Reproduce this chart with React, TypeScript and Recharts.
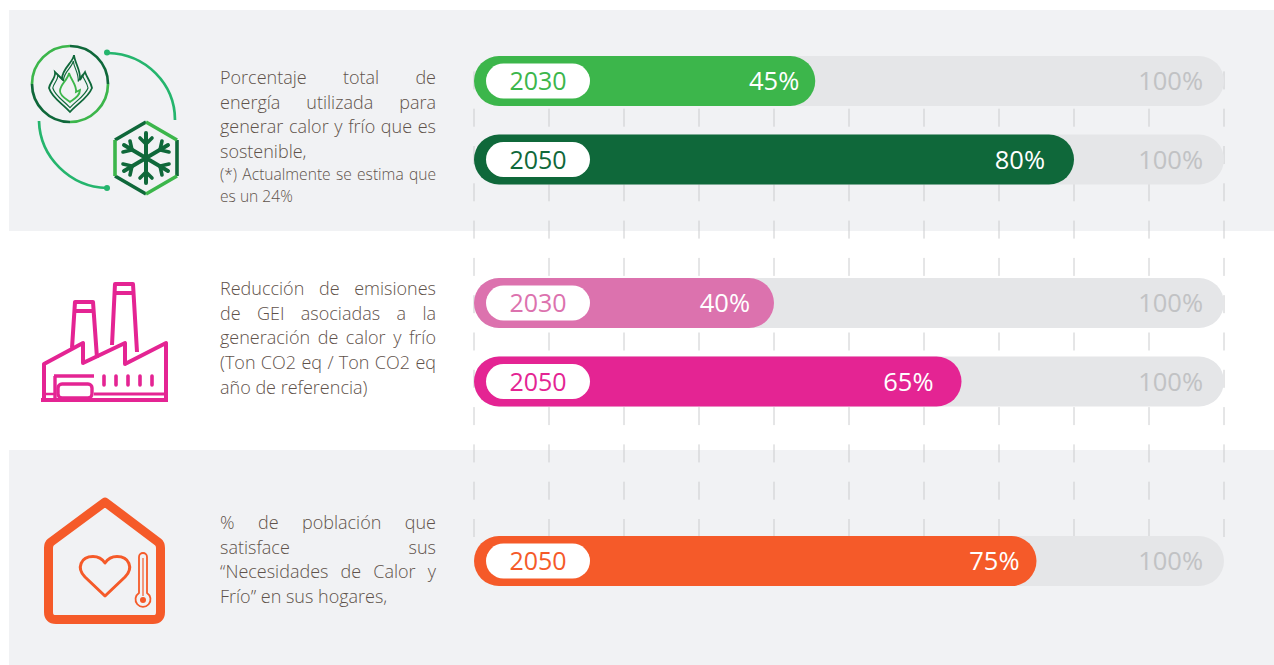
import { Bar, BarChart, LabelList, ReferenceLine, XAxis, YAxis } from "recharts";

const YEARS_HEAT = ["2030", "2050"];
const VALUES_HEAT = [45.5, 80];
const LABELS_HEAT = ["45%", "80%"];
const COLORS_HEAT = ["#3cb64b", "#0f683a"];
const INSETS_HEAT = [16, 29];

const YEARS_GHG = ["2030", "2050"];
const VALUES_GHG = [40, 65];
const LABELS_GHG = ["40%", "65%"];
const COLORS_GHG = ["#dc72ae", "#e42493"];
const INSETS_GHG = [24, 28];

const YEARS_HOME = ["2050"];
const VALUES_HOME = [75];
const LABELS_HOME = ["75%"];
const COLORS_HOME = ["#f55a29"];
const INSETS_HOME = [17];

const FULL = 100;
const X_TICKS = [0, 10, 20, 30, 40, 50, 60, 70, 80, 90, 100];

const FONT = "'Open Sans', sans-serif";
const TEXT_COLOR = "#5f524b";

function buildRows(years: string[], values: number[], colors: string[], labels: string[]) {
  return years.map((year, i) => ({ year, value: values[i], full: FULL, color: colors[i], label: labels[i] }));
}

function YearPill(props: any) {
  const { x, y, height, value, index, colors } = props;
  return (
    <g>
      <rect x={x + 12} y={y + 7.5} width={104} height={height - 15} rx={17.5} fill="#fff" />
      <text
        x={x + 64}
        y={y + height / 2 + 9}
        textAnchor="middle"
        fontFamily={FONT}
        fontSize={25}
        fill={colors[index]}
      >
        {value}
      </text>
    </g>
  );
}

function PercentLabel(props: any) {
  const { x, y, width, height, value, inset, fill } = props;
  return (
    <text
      x={x + width - inset}
      y={y + height / 2 + 9}
      textAnchor="end"
      fontFamily={FONT}
      fontSize={25.5}
      fill={fill}
    >
      {value}
    </text>
  );
}

function ValueBar(props: any) {
  const { x, y, width, height, payload } = props;
  return <rect x={x} y={y} width={width} height={height} rx={25} fill={payload.color} />;
}

function Bars(props: { years: string[]; values: number[]; labels: string[]; colors: string[]; insets: number[]; top: number }) {
  const { years, values, labels, colors, insets, top } = props;
  const rows = buildRows(years, values, colors, labels);
  const height = rows.length * 78.5;
  return (
    <div style={{ position: "absolute", left: 474, top, width: 750, height }}>
      <BarChart
        width={750}
        height={height}
        data={rows}
        layout="vertical"
        margin={{ top: 0, right: 0, bottom: 0, left: 0 }}
        barSize={50}
        barGap={-50}
      >
        <XAxis type="number" domain={[0, FULL]} hide />
        <YAxis type="category" dataKey="year" hide />
        <Bar dataKey="full" fill="#e5e6e8" radius={25} isAnimationActive={false}>
          <LabelList
            dataKey="full"
            content={(p: any) => <PercentLabel {...p} value={`${p.value}%`} inset={21} fill="#c1c2c4" />}
          />
        </Bar>
        <Bar dataKey="value" radius={25} isAnimationActive={false} shape={(p: any) => <ValueBar {...p} />}>
          <LabelList
            dataKey="label"
            content={(p: any) => <PercentLabel {...p} inset={insets[p.index]} fill="#fff" />}
          />
          <LabelList dataKey="year" content={(p: any) => <YearPill {...p} colors={colors} />} />
        </Bar>
      </BarChart>
    </div>
  );
}

function GridLayer() {
  return (
    <div style={{ position: "absolute", left: 473, top: 71, width: 752, height: 466 }}>
      <BarChart
        width={752}
        height={466}
        data={buildRows(YEARS_HOME, VALUES_HOME, COLORS_HOME, LABELS_HOME)}
        layout="vertical"
        margin={{ top: 0, right: 1, bottom: 0, left: 1 }}
      >
        <XAxis type="number" domain={[0, FULL]} hide />
        <YAxis type="category" dataKey="year" hide />
        <Bar dataKey="value" fill="none" isAnimationActive={false} />
        {X_TICKS.map((t) => (
          <ReferenceLine key={t} x={t} stroke="#cbccce" strokeDasharray="18 19.3" />
        ))}
      </BarChart>
    </div>
  );
}

function Caption({ top, lines, small }: { top: number; lines: [string, boolean][]; small?: [string, boolean][] }) {
  return (
    <div style={{ position: "absolute", left: 220, top, width: 216, fontFamily: FONT, fontWeight: 300, color: TEXT_COLOR, whiteSpace: "nowrap" }}>
      {lines.map(([t, just]) => (
        <div key={t} style={{ fontSize: 18, lineHeight: "24.7px", textAlign: just ? "justify" : "left", textAlignLast: just ? "justify" : "left", whiteSpace: just ? "normal" : "nowrap" }}>
          {t}
        </div>
      ))}
      {small && (
        <div style={{ marginTop: -1 }}>
          {small.map(([t, just]) => (
            <div key={t} style={{ fontSize: 15.6, lineHeight: "22px", textAlign: just ? "justify" : "left", textAlignLast: just ? "justify" : "left", whiteSpace: just ? "normal" : "nowrap" }}>
              {t}
            </div>
          ))}
        </div>
      )}
    </div>
  );
}

const FLAME_OUTER =
  "M74 55 C73 63 62 68 62 79 L55 72 C56 78 50 82 49 88 C52 98 62 103 70 112 C78 103 88 98 92 88 C91 82 87 78 85 72 L80 80 C81 70 75 64 74 55 Z";

function Icons() {
  return (
    <svg width={1274} height={665} style={{ position: "absolute", left: 0, top: 0 }}>
      {/* flame + snowflake */}
      <g fill="none" strokeWidth={2.7}>
        <path d="M70 46 A38 38 0 0 1 108 84" stroke="#0f683a" />
        <path d="M108 84 A38 38 0 0 1 70 122" stroke="#3cb64b" />
        <path d="M70 122 A38 38 0 0 1 32 84" stroke="#0f683a" />
        <path d="M32 84 A38 38 0 0 1 70 46" stroke="#3cb64b" />
        <path d={FLAME_OUTER} stroke="#0f683a" strokeWidth={1.8} />
        <path d={FLAME_OUTER} stroke="#0f683a" strokeWidth={1.4} transform="translate(70 88) scale(0.82) translate(-70 -88)" />
        <path d="M69 73 C68 80 60 84 60 91 C60 96 66 99 70 102 C74 99 80 96 80 90 L76 92 C77 85 71 80 69 73Z" stroke="#3cb64b" strokeWidth={1.8} />
        <path d="M108 53 C146 54 175 84 175 120" stroke="#25b56d" />
        <path d="M39 121 C40 157 70 187 107 188" stroke="#25b56d" />
        <path d="M146 122 L115 140 M146 194 L115 176 M177 140 L177 176" stroke="#0f683a" strokeWidth={3.6} />
        <path d="M146 122 L177 140 M115 140 L115 176 M146 194 L177 176" stroke="#3cb64b" strokeWidth={3.6} />
        <path d="M146 133 V183 M124 145 L168 171 M168 145 L124 171" stroke="#0f683a" strokeWidth={4} strokeLinecap="round" />
        <path
          d="M140 138 L146 144 L152 138 M140 178 L146 172 L152 178 M123 152 L132 150 L130 141 M169 152 L160 150 L162 141 M123 164 L132 166 L130 175 M169 164 L160 166 L162 175"
          stroke="#0f683a"
          strokeWidth={3.6}
          strokeLinecap="round"
        />
      </g>
      <circle cx={107} cy={52.5} r={3} fill="#25b56d" />
      <circle cx={107} cy={188} r={3} fill="#25b56d" />
      {/* factory */}
      <g fill="none" stroke="#e42493" strokeWidth={4} strokeLinejoin="round">
        <path d="M44 399 V364 L83 343 V363 L125 343 V364 L166 343 V399" />
        <path d="M41 400 H168" strokeWidth={4} />
        <path d="M94 394 H166" strokeWidth={3} />
        <path d="M72 348 L75 302 H93 L97 358" />
        <path d="M112 345 L115 284 H133 L137 352" />
        <path d="M75 311 H93 M115 293 H133" />
        <path d="M54 376 H94" strokeWidth={3.4} />
        <path d="M55 376 V398" strokeWidth={3.4} />
        <rect x={58} y={384} width={34} height={14} rx={4} strokeWidth={3.4} />
        <path d="M42 394 H54" strokeWidth={2.5} />
        <path d="M104 376 V385 M116 376 V385 M128 376 V385 M140 376 V385 M152 376 V385" strokeWidth={3.6} strokeLinecap="round" />
      </g>
      {/* house */}
      <g fill="none" stroke="#f55a29" strokeLinejoin="round">
        <path d="M105 502 L158 542 Q160.5 544 160.5 548 V612 Q160.5 619.5 153 619.5 H56 Q48.5 619.5 48.5 612 V548 Q48.5 544 51 542 Z" strokeWidth={9} />
        <path d="M105 596 L85 577 C76 568 81 556.5 93 556.5 C99 556.5 103 560 105 563 C107 560 111 556.5 117 556.5 C129 556.5 134 568 125 577 Z" strokeWidth={3} />
        <path d="M139 593 V557 A4 4 0 0 1 147 557 V593 A7.5 7.5 0 1 1 139 593 Z" strokeWidth={1.8} />
        <path d="M143 558 V596" strokeWidth={1.2} />
      </g>
      <circle cx={143} cy={600} r={3} fill="#f55a29" />
    </svg>
  );
}

export default function App() {
  return (
    <div style={{ position: "relative", width: 1274, height: 665, background: "#fff", overflow: "hidden" }}>
      <style>{"body{margin:0}"}</style>
      <div style={{ position: "absolute", left: 9, top: 10, width: 1265, height: 221, background: "#f1f2f4" }} />
      <div style={{ position: "absolute", left: 9, top: 450, width: 1265, height: 215, background: "#f1f2f4" }} />
      <GridLayer />
      <Bars years={YEARS_HEAT} values={VALUES_HEAT} labels={LABELS_HEAT} colors={COLORS_HEAT} insets={INSETS_HEAT} top={42} />
      <Bars years={YEARS_GHG} values={VALUES_GHG} labels={LABELS_GHG} colors={COLORS_GHG} insets={INSETS_GHG} top={264} />
      <Bars years={YEARS_HOME} values={VALUES_HOME} labels={LABELS_HOME} colors={COLORS_HOME} insets={INSETS_HOME} top={521.75} />
      <Caption
        top={65}
        lines={[
          ["Porcentaje total de", true],
          ["energía utilizada para", true],
          ["generar calor y frío que es", true],
          ["sostenible,", false],
        ]}
        small={[
          ["(*) Actualmente se estima que", true],
          ["es un 24%", false],
        ]}
      />
      <Caption
        top={276}
        lines={[
          ["Reducción de emisiones", true],
          ["de GEI asociadas a la", true],
          ["generación de calor y frío", true],
          ["(Ton CO2 eq / Ton CO2 eq", true],
          ["año de referencia)", false],
        ]}
      />
      <Caption
        top={510}
        lines={[
          ["% de población que", true],
          ["satisface sus", true],
          ["“Necesidades de Calor y", true],
          ["Frío” en sus hogares,", false],
        ]}
      />
      <Icons />
    </div>
  );
}
